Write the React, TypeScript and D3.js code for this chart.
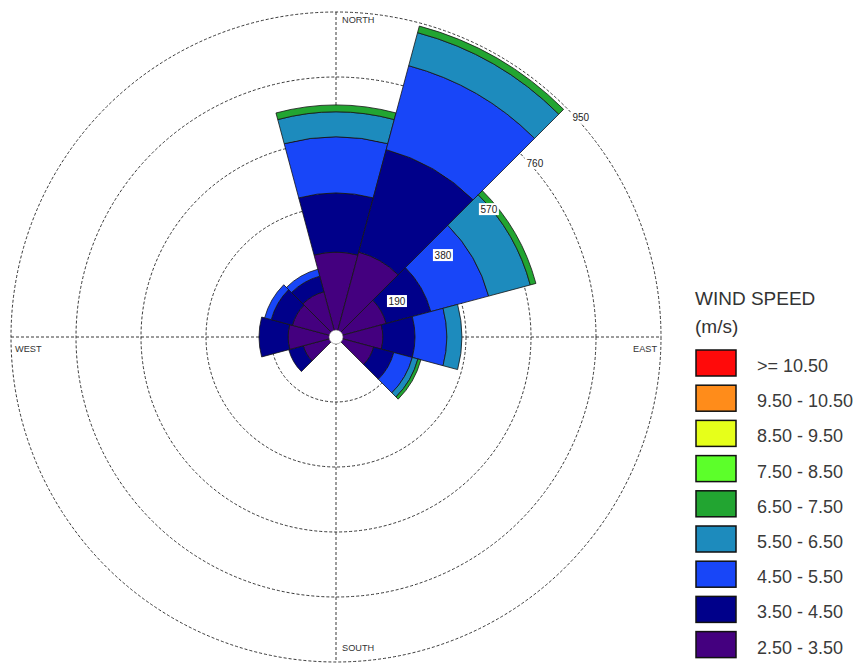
import * as d3 from 'd3';
import React from 'react';

// wind directions (degrees, clockwise from north), 30 degree sectors
const directions = [0, 30, 60, 90, 120, 150, 180, 210, 240, 270, 300, 330];

// speed bins, low to high
const speedBins = [
  '2.50 - 3.50',
  '3.50 - 4.50',
  '4.50 - 5.50',
  '5.50 - 6.50',
  '6.50 - 7.50',
  '7.50 - 8.50',
  '8.50 - 9.50',
  '9.50 - 10.50',
  '>= 10.50',
];
const binColors = ['#44007f', '#00008a', '#1846f8', '#1d8bbd', '#22a531', '#5cff2a', '#e6ff1a', '#ff8c1a', '#ff0a0a'];

// counts per direction for each bin (same order as directions)
const bin2_5 = [248, 257, 152, 137, 114, 0, 0, 0, 99, 140, 132, 137];
const bin3_5 = [173, 310, 135, 94, 61, 0, 0, 0, 44, 85, 64, 47];
const bin4_5 = [164, 254, 175, 93, 56, 0, 0, 0, 0, 0, 20, 21];
const bin5_5 = [73, 100, 126, 44, 17, 0, 0, 0, 0, 0, 0, 0];
const bin6_5 = [20, 20, 17, 0, 9, 0, 0, 0, 0, 0, 0, 0];
const bin7_5 = [0, 0, 0, 0, 0, 0, 0, 0, 0, 0, 0, 0];
const bin8_5 = [0, 0, 0, 0, 0, 0, 0, 0, 0, 0, 0, 0];
const bin9_5 = [0, 0, 0, 0, 0, 0, 0, 0, 0, 0, 0, 0];
const bin10_5 = [0, 0, 0, 0, 0, 0, 0, 0, 0, 0, 0, 0];
const binValues = [bin2_5, bin3_5, bin4_5, bin5_5, bin6_5, bin7_5, bin8_5, bin9_5, bin10_5];

const ringTicks = [190, 380, 570, 760, 950];
const compass = ['NORTH', 'EAST', 'SOUTH', 'WEST'];

const W = 861;
const H = 663;
const cx = 336;
const cy = 337;
const font = '"Liberation Sans", Arial, sans-serif';

const App = () => {
  const r = d3.scaleLinear().domain([0, 950]).range([0, 325]);
  const rMax = r(950);
  const arc = d3.arc<any>();
  const toRad = (deg: number) => (deg * Math.PI) / 180;

  const segments: any[] = [];
  directions.forEach((dir, i) => {
    let acc = 0;
    binValues.forEach((vals, b) => {
      const v = vals[i];
      if (!v) return;
      segments.push({
        key: dir + '-' + b,
        d: arc({
          innerRadius: r(acc),
          outerRadius: r(acc + v),
          startAngle: toRad(dir - 15),
          endAngle: toRad(dir + 15),
        }),
        fill: binColors[b],
      });
      acc += v;
    });
  });

  const s45 = Math.SQRT1_2;

  return (
    <svg width={W} height={H} style={{ position: 'absolute', left: 0, top: 0, display: 'block', background: '#fff' }}>
      <g transform={`translate(${cx},${cy})`}>
        {ringTicks.map((t) => (
          <circle key={t} r={r(t)} fill="none" stroke="#222" strokeWidth={0.9} strokeDasharray="3,2" />
        ))}
        <line x1={0} y1={-rMax} x2={0} y2={rMax} stroke="#222" strokeWidth={0.9} strokeDasharray="3,2" />
        <line x1={-rMax} y1={0} x2={rMax} y2={0} stroke="#222" strokeWidth={0.9} strokeDasharray="3,2" />

        {segments.map((s) => (
          <path key={s.key} d={s.d} fill={s.fill} stroke="#151515" strokeWidth={0.8} strokeLinejoin="round" />
        ))}

        <circle r={7} fill="#fff" stroke="#666" strokeWidth={0.5} />

        {ringTicks.map((t) => {
          const x = r(t) * s45 + 5;
          const y = -r(t) * s45 + 4;
          return (
            <g key={'lbl' + t} transform={`translate(${x},${y})`}>
              <rect width={20} height={12} fill="#fff" />
              <text x={10} y={10} textAnchor="middle" fontFamily={font} fontSize={10} fill="#222">
                {t}
              </text>
            </g>
          );
        })}

        <text x={6} y={-rMax + 11} fontFamily={font} fontSize={9.2} fill="#333">{compass[0]}</text>
        <text x={rMax - 4} y={15} textAnchor="end" fontFamily={font} fontSize={9.2} fill="#333">{compass[1]}</text>
        <text x={6} y={rMax - 11} fontFamily={font} fontSize={9.2} fill="#333">{compass[2]}</text>
        <text x={-rMax + 4} y={15} fontFamily={font} fontSize={9.2} fill="#333">{compass[3]}</text>
      </g>

      <g transform="translate(695,0)">
        <text x={0} y={305} fontFamily={font} fontSize={19} fill="#333">WIND SPEED</text>
        <text x={0} y={333} fontFamily={font} fontSize={19} fill="#333">(m/s)</text>
        {speedBins
          .map((label, b) => ({ label, color: binColors[b] }))
          .reverse()
          .map((d, i) => {
            const base = 372 + i * 35.2;
            return (
              <g key={d.label}>
                <rect x={1} y={base - 22} width={40} height={26} fill={d.color} stroke="#111" strokeWidth={1.5} />
                <text x={62} y={base} fontFamily={font} fontSize={18} fill="#3a3a3a">{d.label}</text>
              </g>
            );
          })}
      </g>
    </svg>
  );
};

export default App;
